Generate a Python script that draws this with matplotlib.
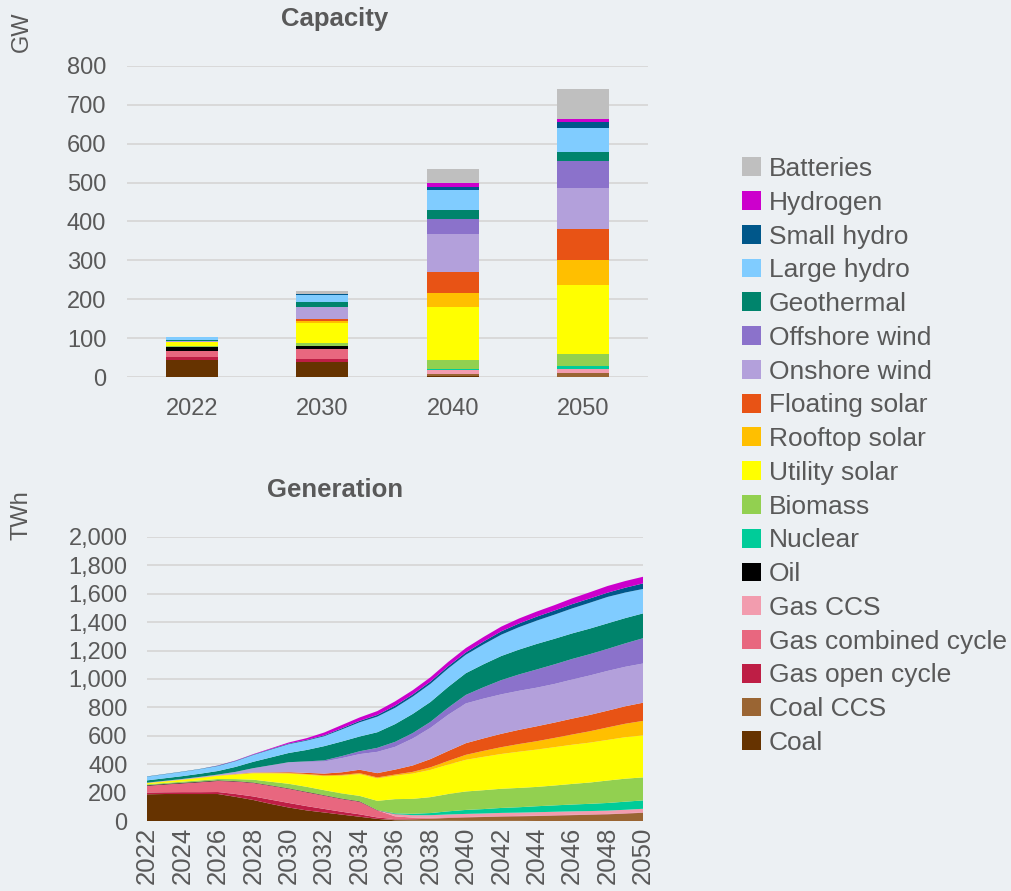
import numpy as np
import matplotlib.pyplot as plt
from matplotlib.patches import Patch

plt.rcParams["font.family"] = ["Liberation Sans", "DejaVu Sans"]

BG = "#ECF0F3"
TXT = "#595959"
GRID = "#D9D9D9"

# technologies, bottom of the stack first
techs = ["Coal", "Coal CCS", "Gas open cycle", "Gas combined cycle", "Gas CCS",
         "Oil", "Nuclear", "Biomass", "Utility solar", "Rooftop solar",
         "Floating solar", "Onshore wind", "Offshore wind", "Geothermal",
         "Large hydro", "Small hydro", "Hydrogen", "Batteries"]
colors = ["#663300", "#9A6533", "#BE1E45", "#E8677F", "#F29CAE",
          "#000000", "#00CC99", "#92D050", "#FFFF00", "#FFBF00",
          "#E85315", "#B3A0DB", "#8B72CB", "#00846C",
          "#80CCFF", "#00578A", "#CC00CC", "#BFBFBF"]

# capacity (GW)
cap_years = ["2022", "2030", "2040", "2050"]
cap_coal = [45, 39, 3, 1]
cap_coal_ccs = [0, 0, 5, 10]
cap_gas_oc = [6, 8, 0, 0]
cap_gas_cc = [15, 24, 1, 0]
cap_gas_ccs = [0, 0, 8, 10]
cap_oil = [12, 10, 0, 0]
cap_nuclear = [0, 0, 4, 8]
cap_biomass = [2, 6, 24, 30]
cap_utility = [10, 52, 136, 178]
cap_rooftop = [1, 4, 34, 64]
cap_floating = [0, 7, 56, 79]
cap_onshore = [1, 31, 97, 105]
cap_offshore = [0, 0, 39, 70]
cap_geothermal = [3, 13, 22, 24]
cap_large_hydro = [8, 18, 52, 62]
cap_small_hydro = [1, 1, 9, 14]
cap_hydrogen = [0, 0, 9, 9]
cap_batteries = [0, 8, 37, 76]

# generation (TWh)
gen_years = list(range(2022, 2051))
gen_coal = [188, 190, 190, 190, 190, 170, 148, 120, 95, 75, 60, 45, 30, 15, 5,
            3, 2, 2, 1, 1, 1, 1, 0, 0, 0, 0, 0, 0, 0]
gen_coal_ccs = [0, 0, 0, 0, 0, 0, 0, 0, 0, 0, 0, 0, 0, 0, 4,
                9, 14, 19, 24, 27, 30, 32, 35, 38, 41, 44, 47, 52, 58]
gen_gas_oc = [12, 12, 13, 13, 14, 20, 25, 30, 32, 30, 25, 20, 17, 10, 4,
              2, 1, 1, 1, 1, 1, 1, 1, 1, 1, 1, 1, 1, 1]
gen_gas_cc = [48, 55, 62, 70, 78, 88, 95, 98, 100, 98, 94, 90, 89, 50, 20,
              10, 6, 4, 2, 2, 2, 2, 2, 2, 2, 2, 2, 2, 2]
gen_gas_ccs = [0, 0, 0, 0, 0, 0, 0, 0, 0, 0, 0, 0, 0, 0, 15,
               17, 18, 20, 22, 22, 23, 23, 24, 24, 24, 23, 23, 24, 25]
gen_oil = [4, 4, 4, 4, 4, 3, 3, 3, 3, 3, 3, 3, 3, 2, 1,
           0, 0, 0, 0, 0, 0, 0, 0, 0, 0, 0, 0, 0, 0]
gen_nuclear = [0, 0, 0, 0, 0, 0, 0, 0, 0, 0, 0, 0, 0, 0, 5,
               10, 15, 22, 28, 31, 35, 38, 42, 45, 48, 51, 54, 57, 59]
gen_biomass = [6, 7, 8, 9, 10, 14, 20, 25, 32, 35, 35, 36, 38, 65, 100,
               105, 112, 122, 130, 133, 135, 136, 136, 140, 145, 150, 158, 162, 162]
gen_utility = [8, 10, 13, 17, 22, 32, 45, 60, 72, 85, 99, 125, 153, 158, 165,
               178, 192, 207, 223, 235, 245, 255, 263, 270, 276, 281, 286, 292, 296]
gen_rooftop = [2, 2, 2, 3, 3, 3, 4, 4, 5, 5, 6, 6, 7, 7, 8,
               12, 18, 26, 35, 42, 48, 54, 59, 65, 72, 80, 88, 95, 102]
gen_floating = [0, 0, 0, 0, 0, 1, 2, 3, 5, 8, 12, 18, 24, 30, 35,
                45, 58, 70, 82, 88, 94, 100, 105, 108, 112, 115, 118, 123, 128]
gen_onshore = [2, 3, 4, 5, 6, 15, 30, 50, 70, 78, 85, 100, 110, 150, 160,
               190, 220, 255, 280, 280, 278, 275, 272, 272, 275, 278, 280, 278, 276]
gen_offshore = [0, 0, 0, 0, 0, 0, 0, 0, 0, 3, 8, 14, 20, 28, 35,
                38, 42, 50, 60, 80, 100, 115, 128, 138, 145, 150, 155, 165, 178]
gen_geothermal = [16, 18, 20, 22, 25, 35, 45, 55, 65, 80, 100, 103, 104, 110, 125,
                  135, 140, 146, 153, 162, 170, 175, 180, 180, 180, 180, 180, 178, 175]
gen_large_hydro = [26, 28, 30, 32, 35, 40, 48, 55, 62, 66, 70, 85, 100, 110, 115,
                   122, 128, 130, 130, 140, 150, 158, 164, 170, 176, 182, 186, 180, 172]
gen_small_hydro = [2, 2, 2, 2, 3, 3, 3, 4, 4, 5, 6, 8, 10, 12, 15,
                   15, 16, 16, 16, 20, 24, 26, 28, 29, 30, 30, 30, 34, 39]
gen_hydrogen = [0, 0, 0, 0, 1, 2, 3, 5, 8, 12, 20, 23, 24, 27, 30,
                30, 30, 30, 31, 32, 33, 35, 36, 38, 41, 44, 47, 47, 47]
gen_batteries = [0] * len(gen_years)

cap = [cap_coal, cap_coal_ccs, cap_gas_oc, cap_gas_cc, cap_gas_ccs, cap_oil,
       cap_nuclear, cap_biomass, cap_utility, cap_rooftop, cap_floating,
       cap_onshore, cap_offshore, cap_geothermal, cap_large_hydro,
       cap_small_hydro, cap_hydrogen, cap_batteries]
gen = [gen_coal, gen_coal_ccs, gen_gas_oc, gen_gas_cc, gen_gas_ccs, gen_oil,
       gen_nuclear, gen_biomass, gen_utility, gen_rooftop, gen_floating,
       gen_onshore, gen_offshore, gen_geothermal, gen_large_hydro,
       gen_small_hydro, gen_hydrogen, gen_batteries]

W, H = 1012, 891
fig = plt.figure(figsize=(W / 100, H / 100), dpi=100, facecolor=BG)


def style_axes(ax):
    ax.set_facecolor(BG)
    for s in ax.spines.values():
        s.set_visible(False)
    ax.grid(axis="y", color=GRID, linewidth=1.4)
    ax.set_axisbelow(True)
    ax.tick_params(length=0, labelsize=17, labelcolor=TXT)


# ---- capacity bars ----
ax1 = fig.add_axes([127 / W, 1 - 377 / H, 521 / W, 311 / H])
style_axes(ax1)
x = np.arange(len(cap_years))
bottom = np.zeros(len(cap_years))
for vals, c in zip(cap, colors):
    ax1.bar(x, vals, width=0.4, bottom=bottom, color=c, linewidth=0)
    bottom += np.array(vals)
ax1.set_xlim(-0.5, 3.5)
ax1.set_ylim(0, 800)
ax1.set_yticks(range(0, 801, 100))
ax1.set_xticks(x)
ax1.set_xticklabels(cap_years)
ax1.tick_params(axis="y", pad=15)
ax1.tick_params(axis="x", pad=15)
fig.text(335 / W, 1 - 19 / H, "Capacity", ha="center", va="center",
         fontsize=18.5, fontweight="bold", color=TXT)
fig.text(22 / W, 1 - 32 / H, "GW", rotation=90, ha="center", va="center",
         fontsize=17, color=TXT)

# ---- generation area ----
ax2 = fig.add_axes([147 / W, 1 - 821 / H, 496 / W, 284 / H])
style_axes(ax2)
ax2.stackplot(gen_years, *gen, colors=colors, linewidth=0)
ax2.set_xlim(2022, 2050)
ax2.set_ylim(0, 2000)
ax2.set_yticks(range(0, 2001, 200))
ax2.set_yticklabels([f"{v:,}" for v in range(0, 2001, 200)])
ax2.set_xticks(range(2022, 2051, 2))
ax2.tick_params(axis="y", pad=14)
ax2.tick_params(axis="x", rotation=90, labelsize=18.5, pad=4)
fig.text(335 / W, 1 - 490 / H, "Generation", ha="center", va="center",
         fontsize=18.5, fontweight="bold", color=TXT)
fig.text(22 / W, 1 - 515 / H, "TWh", rotation=90, ha="center", va="center",
         fontsize=17, color=TXT)

handles = [Patch(facecolor=c, edgecolor="none", label=t)
           for t, c in zip(techs[::-1], colors[::-1])]
fig.legend(handles=handles, loc="upper left", bbox_to_anchor=(742 / W, 1 - 157 / H),
           frameon=False, fontsize=19, labelcolor=TXT, handlelength=0.72,
           handleheight=0.72, handletextpad=0.3, labelspacing=0.37,
           borderpad=0, borderaxespad=0)

fig.savefig("out.png", dpi=100, facecolor=BG)
